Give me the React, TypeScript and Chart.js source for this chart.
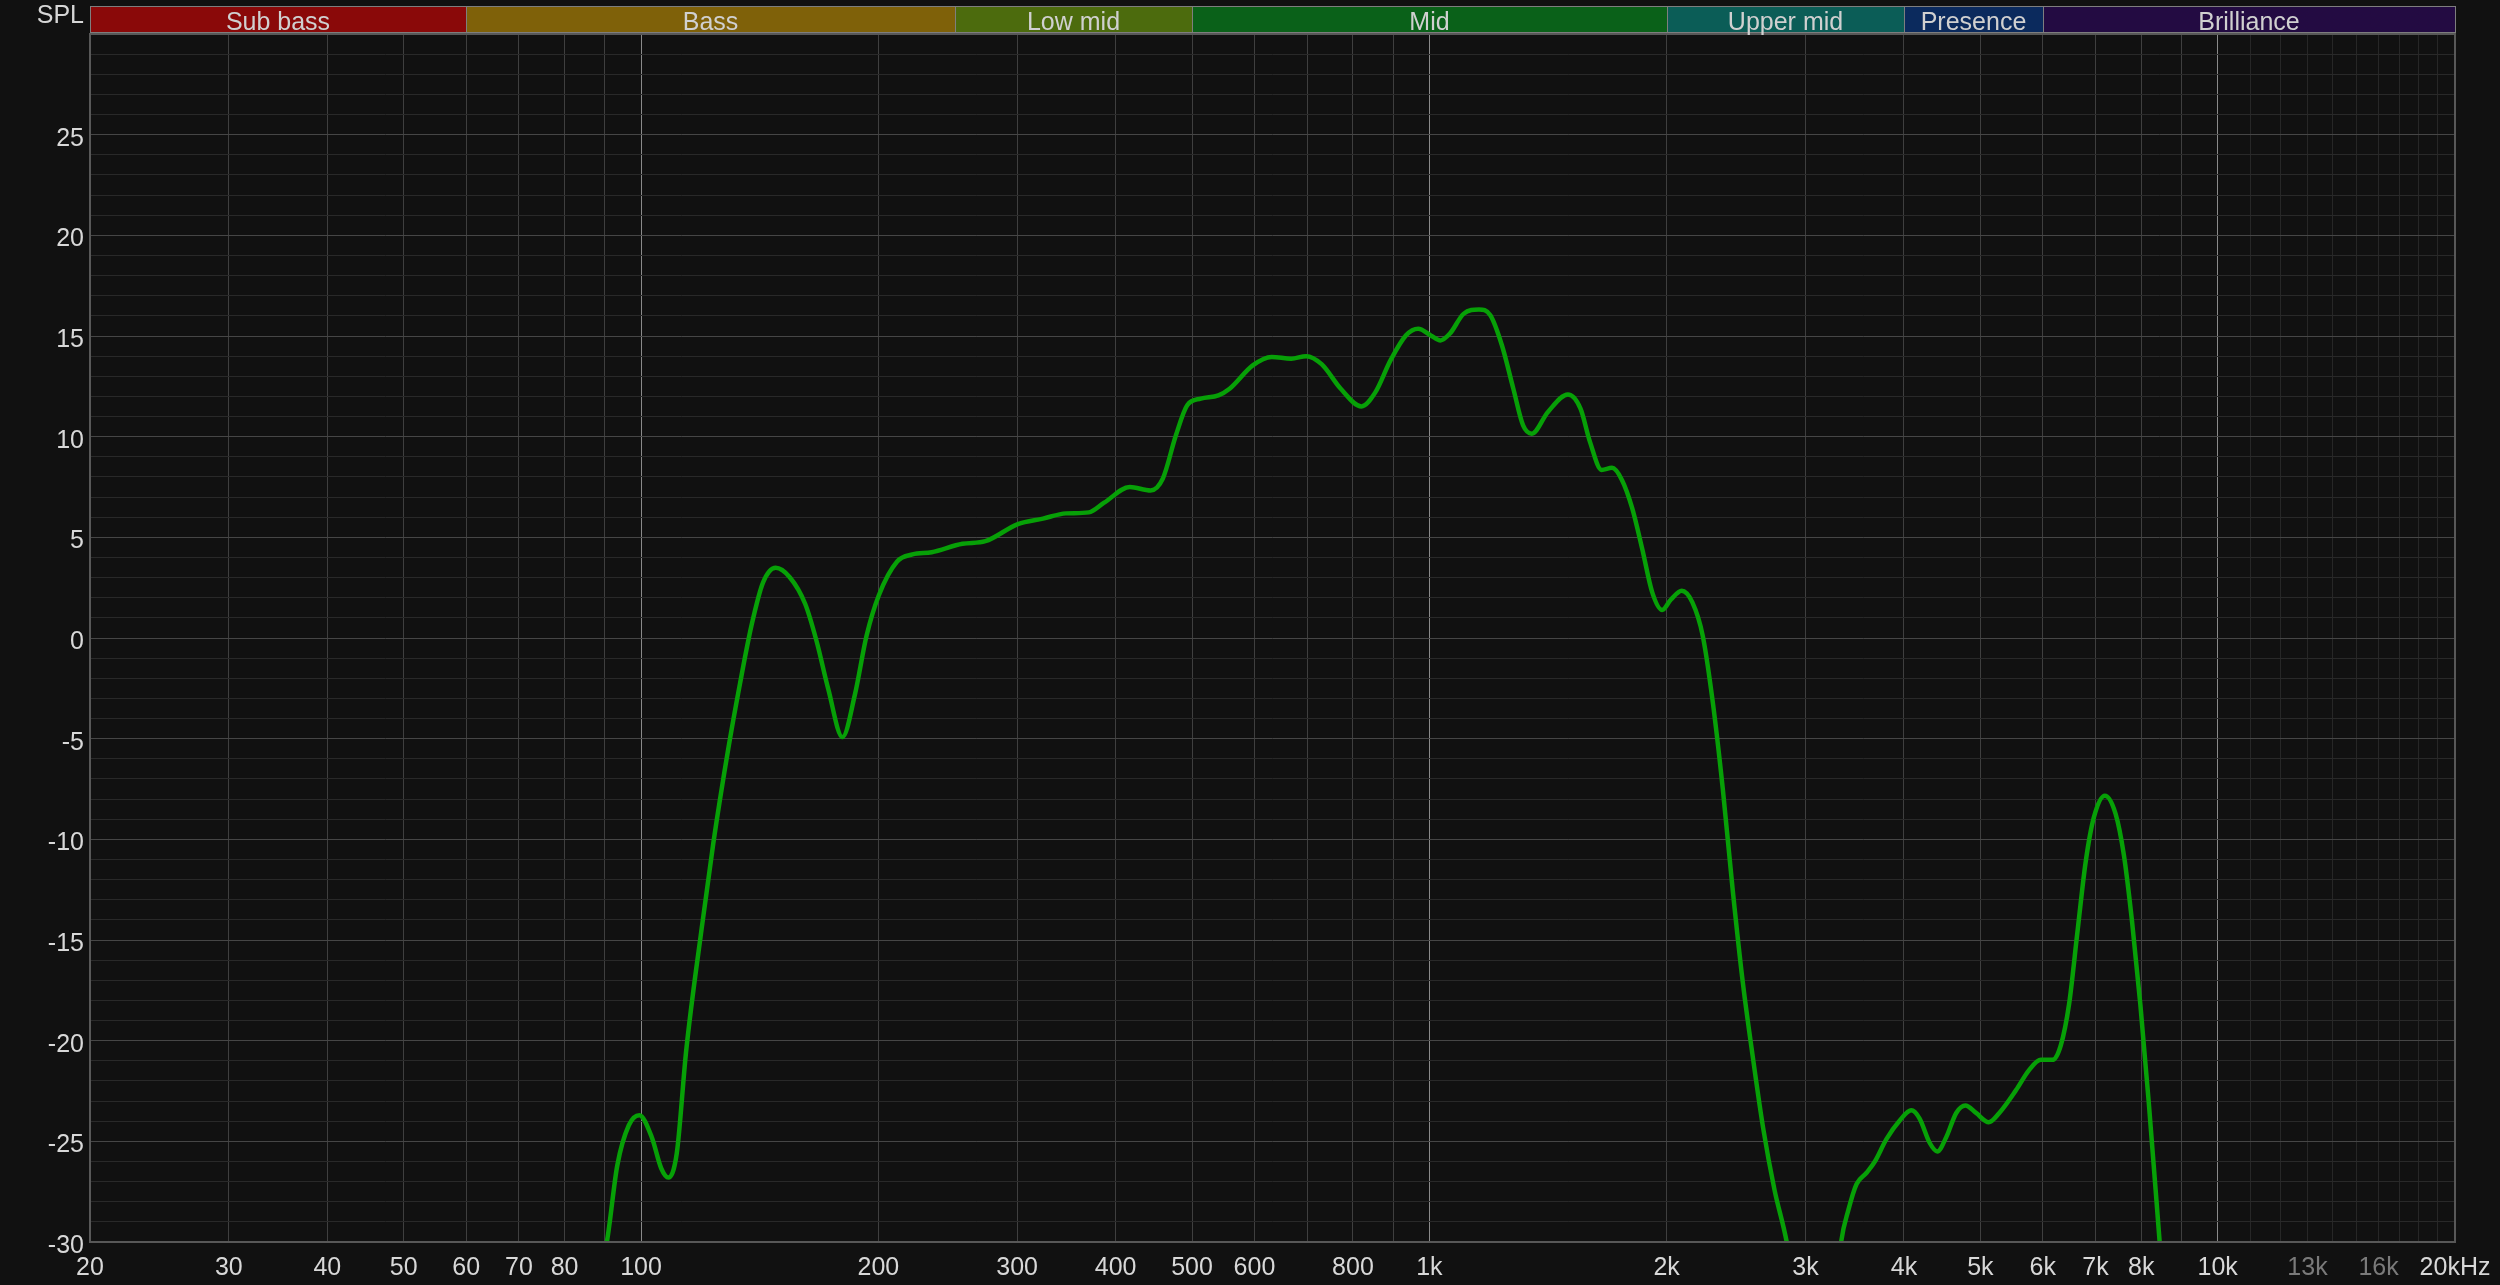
import React, { useEffect, useRef } from 'react';
import { Chart, registerables } from 'chart.js';

Chart.register(...registerables);

// Frequency response (Hz -> dB SPL)
const freqHz = [
  85, 90.5, 93.3, 96.5, 99.5, 103.2, 106.1, 108.3, 111, 114.1, 119.4, 123.5, 129.1, 133.5, 138.1,
  142.8, 148.2, 154.4, 161.5, 167, 172.8, 180.1, 186.8, 193.2, 200.2, 211.3, 221, 233.7, 255.7,
  273.4, 300.6, 323.5, 345.9, 369.8, 386.8, 417, 443, 459, 477, 493, 513, 540, 558, 597, 631, 668,
  698, 730, 772, 820, 854, 893, 934, 968, 1004, 1033, 1062, 1105, 1156, 1195, 1236, 1278, 1315,
  1349, 1414, 1499, 1555, 1599, 1654, 1705, 1755, 1808, 1862, 1917, 1974, 2024, 2090, 2156, 2222,
  2288, 2356, 2426, 2498, 2574, 2650, 2740, 2840, 2950, 3250, 3329, 3400, 3483, 3586, 3674, 3800,
  3951, 4087, 4187, 4311, 4409, 4525, 4660, 4786, 4937, 5123, 5284, 5546, 5767, 5966, 6172, 6323,
  6478, 6636, 6800, 6966, 7193, 7420, 7602, 7788, 7978, 8175, 8441, 8600,
];
const splDb = [
  -34, -30, -26.2, -24.2, -23.7, -24.8, -26.35, -26.8, -25.6, -20.5, -14.4, -10.2, -5.45, -2.28, 0.63,
  2.75, 3.49, 3.02, 1.7, -0.16, -2.54, -4.92, -2.8, 0.1, 2.1, 3.8, 4.15, 4.26, 4.68,
  4.81, 5.66, 5.93, 6.19, 6.24, 6.72, 7.5, 7.33, 7.91, 10.07, 11.56, 11.89, 12.05, 12.38, 13.54, 13.96, 13.87,
  14.0, 13.6, 12.38, 11.5, 12.2, 13.8, 15.03, 15.36, 15.03, 14.78, 15.12, 16.1, 16.32, 16.03, 14.54, 12.38, 10.56,
  10.15, 11.23, 12.09, 11.39, 9.73, 8.35, 8.45, 7.85, 6.46, 4.43, 2.28, 1.39, 1.9, 2.35, 1.77, 0.12,
  -3.17, -7.48, -12.55, -17.1, -20.9, -24.3, -27.4, -30, -34, -34, -30, -28.42, -27.12, -26.56, -26.0, -24.89,
  -23.96, -23.46, -23.87, -25.07, -25.5, -24.8, -23.59, -23.22, -23.59, -24.05, -23.59, -22.47, -21.45, -20.95, -20.95, -20.24,
  -18.2, -14.67, -11.13, -8.9, -7.83, -8.72, -10.76, -14.11, -18.2, -23.03, -30, -34,
];

// X axis grid lines and their labels
const xTickValues = [
  20, 30, 40, 50, 60, 70, 80, 90, 100, 200, 300, 400, 500, 600, 700, 800, 900, 1000,
  2000, 3000, 4000, 5000, 6000, 7000, 8000, 9000, 10000,
  11000, 12000, 13000, 14000, 15000, 16000, 17000, 18000, 19000, 20000,
];
const xTickLabels = [
  '20', '30', '40', '50', '60', '70', '80', '', '100', '200', '300', '400', '500', '600', '', '800', '', '1k',
  '2k', '3k', '4k', '5k', '6k', '7k', '8k', '', '10k',
  '', '', '13k', '', '', '16k', '', '', '', '20kHz',
];
const xDimLabels = ['13k', '16k'];
const xBrightLines = [100, 1000, 10000];
const xFaintLines = [11000, 12000, 13000, 14000, 15000, 16000, 17000, 18000, 19000];

// Y axis labels
const yTickLabels = [-30, -25, -20, -15, -10, -5, 0, 5, 10, 15, 20, 25];

// Frequency bands
const bandNames = ['Sub bass', 'Bass', 'Low mid', 'Mid', 'Upper mid', 'Presence', 'Brilliance'];
const bandEdges = [20, 60, 250, 500, 2000, 4000, 6000, 20000];
const bandColors = ['#8a0909', '#7f6109', '#4c6b0d', '#0a6119', '#0b5d57', '#0b2a5d', '#230b42'];

const FONT = '"Liberation Sans", Arial, Helvetica, sans-serif';
const FONT_SIZE = 25;

const decorPlugin = {
  id: 'decor',
  beforeDraw(chart: any) {
    const { ctx, width, height } = chart;
    ctx.save();
    ctx.fillStyle = '#111111';
    ctx.fillRect(0, 0, width, height);
    ctx.restore();
  },
  afterDraw(chart: any) {
    const { ctx, chartArea: a, scales } = chart;
    const xs = scales.x;
    ctx.save();
    // plot frame
    ctx.strokeStyle = '#585858';
    ctx.lineWidth = 2;
    ctx.strokeRect(a.left, a.top, a.right - a.left, a.bottom - a.top);

    // band bar
    const top = 6.5;
    const bottom = 32.5;
    ctx.font = `${FONT_SIZE}px ${FONT}`;
    ctx.textAlign = 'center';
    ctx.textBaseline = 'alphabetic';
    for (let i = 0; i < bandNames.length; i++) {
      const x0 = Math.round(xs.getPixelForValue(bandEdges[i]));
      const x1 = Math.round(xs.getPixelForValue(bandEdges[i + 1]));
      ctx.fillStyle = bandColors[i];
      ctx.fillRect(x0, top, x1 - x0, bottom - top);
      ctx.strokeStyle = '#7e7e7e';
      ctx.lineWidth = 1;
      ctx.strokeRect(x0 + 0.5, top, x1 - x0, bottom - top);
      ctx.fillStyle = '#d0d0d0';
      ctx.fillText(bandNames[i], (x0 + x1) / 2, 30);
    }

    // axis title
    ctx.textAlign = 'right';
    ctx.fillStyle = '#d6d6d6';
    ctx.fillText('SPL', 84, 23);
    ctx.restore();
  },
};

export default function App() {
  const ref = useRef<HTMLCanvasElement>(null);

  useEffect(() => {
    document.body.style.margin = '0';
    document.body.style.background = '#111111';
    const canvas = ref.current;
    if (!canvas) return;

    const chart = new Chart(canvas, {
      type: 'line',
      data: {
        datasets: [
          {
            label: 'SPL',
            data: freqHz.map((f, i) => ({ x: f, y: splDb[i] })),
            borderColor: '#07a007',
            borderWidth: 4.5,
            pointRadius: 0,
            fill: false,
            cubicInterpolationMode: 'monotone',
            clip: 0,
          } as any,
        ],
      },
      options: {
        responsive: false,
        animation: false,
        devicePixelRatio: 1,
        layout: { padding: { top: 34, right: 45, bottom: 0, left: 0 } },
        plugins: {
          legend: { display: false },
          tooltip: { enabled: false },
        },
        scales: {
          x: {
            type: 'logarithmic',
            min: 20,
            max: 20000,
            border: { display: false },
            afterBuildTicks: (scale: any) => {
              scale.ticks = xTickValues.map((v) => ({ value: v }));
            },
            afterFit: (scale: any) => {
              scale.height = 43;
              scale.paddingLeft = 0;
              scale.paddingRight = 0;
            },
            grid: {
              drawTicks: false,
              lineWidth: 1,
              color: (ctx: any) => {
                const v = ctx.tick ? ctx.tick.value : 0;
                if (xBrightLines.includes(v)) return '#8a8a8a';
                if (xFaintLines.includes(v)) return '#272727';
                return '#3f3f3f';
              },
            },
            ticks: {
              autoSkip: false,
              maxRotation: 0,
              minRotation: 0,
              padding: 11,
              font: { family: FONT, size: FONT_SIZE },
              color: (ctx: any) => {
                const idx = xTickValues.indexOf(ctx.tick ? ctx.tick.value : -1);
                const lbl = idx >= 0 ? xTickLabels[idx] : '';
                return xDimLabels.includes(lbl) ? '#7a7a7a' : '#d8d8d8';
              },
              callback: (value: any) => {
                const idx = xTickValues.indexOf(Number(value));
                return idx >= 0 ? xTickLabels[idx] : '';
              },
            },
          },
          y: {
            type: 'linear',
            min: -30,
            max: 30,
            border: { display: false },
            afterFit: (scale: any) => {
              scale.width = 90;
              scale.paddingTop = 0;
              scale.paddingBottom = 0;
            },
            grid: {
              drawTicks: false,
              lineWidth: 1,
              color: (ctx: any) => {
                const v = ctx.tick ? ctx.tick.value : 0;
                return v % 5 === 0 ? '#464646' : '#292929';
              },
            },
            ticks: {
              stepSize: 1,
              autoSkip: false,
              padding: 6,
              labelOffset: 4,
              font: { family: FONT, size: FONT_SIZE },
              color: '#d8d8d8',
              callback: (value: any) => (yTickLabels.includes(Number(value)) ? String(value) : ''),
            },
          },
        },
      },
      plugins: [decorPlugin],
    });

    return () => chart.destroy();
  }, []);

  return (
    <div style={{ width: 2500, height: 1285, background: '#111111' }}>
      <canvas ref={ref} width={2500} height={1285} style={{ display: 'block', width: 2500, height: 1285 }} />
    </div>
  );
}
